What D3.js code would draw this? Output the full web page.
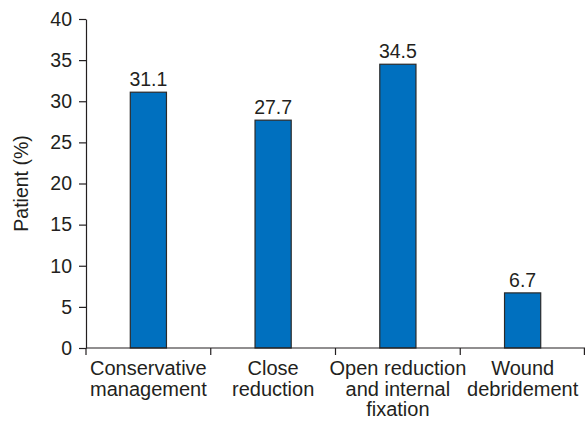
<!DOCTYPE html>
<html>
<head>
<meta charset="utf-8">
<script src="https://cdn.jsdelivr.net/npm/d3@7/dist/d3.min.js"></script>
<style>
  html, body { margin: 0; padding: 0; background: #fff; }
  svg text { font-family: "Liberation Sans", Arial, sans-serif; fill: #231f20; }
</style>
</head>
<body>
<svg id="chart" width="585" height="421"></svg>
<script>
// Treatment categories (each label split into lines) and patient percentages
const categories = [
  ["Conservative", "management"],
  ["Close", "reduction"],
  ["Open reduction", "and internal", "fixation"],
  ["Wound", "debridement"]
];
const values = [31.1, 27.7, 34.5, 6.7];
const yTicks = [0, 5, 10, 15, 20, 25, 30, 35, 40];

const svg = d3.select("#chart");
const margin = { left: 86, right: 0, top: 19, bottom: 73 };
const W = 585, H = 421;
const ink = "#231f20";
const fontSize = 19.5;
const catFontSize = 20;

const x = d3.scaleBand()
  .domain(d3.range(categories.length))
  .range([margin.left, W - margin.right])
  .paddingInner(0.71)
  .paddingOuter(0.355);

const y = d3.scaleLinear().domain([0, 40]).range([H - margin.bottom, margin.top]);

// Bars
svg.append("g").selectAll("rect")
  .data(values)
  .join("rect")
  .attr("x", (d, i) => x(i))
  .attr("width", x.bandwidth())
  .attr("y", d => y(d))
  .attr("height", d => y(0) - y(d))
  .attr("fill", "#0070bf")
  .attr("stroke", "#2a2a2a")
  .attr("stroke-width", 1.2);

// Value labels above bars
svg.append("g").selectAll("text")
  .data(values)
  .join("text")
  .attr("x", (d, i) => x(i) + x.bandwidth() / 2)
  .attr("y", d => y(d) - 6)
  .attr("text-anchor", "middle")
  .attr("font-size", fontSize)
  .text(d => d.toFixed(1));

// Y axis
const yAxis = svg.append("g")
  .attr("transform", `translate(${margin.left},0)`)
  .call(d3.axisLeft(y).tickValues(yTicks).tickSize(7).tickPadding(7).tickSizeOuter(0));
yAxis.select(".domain").attr("stroke", ink).attr("stroke-width", 1.2);
yAxis.selectAll(".tick line").attr("stroke", ink).attr("stroke-width", 1.2);
yAxis.selectAll(".tick text").attr("font-size", fontSize).attr("font-family", "Liberation Sans, Arial, sans-serif").attr("fill", ink);

// X axis: baseline with separators between categories
const xg = svg.append("g");
const xRange = x.range();
xg.append("line")
  .attr("x1", xRange[0]).attr("x2", xRange[1])
  .attr("y1", y(0)).attr("y2", y(0))
  .attr("stroke", ink).attr("stroke-width", 1.2);
const bounds = d3.range(categories.length + 1).map(i => xRange[0] + i * (xRange[1] - xRange[0]) / categories.length);
xg.selectAll("line.sep")
  .data(bounds)
  .join("line")
  .attr("class", "sep")
  .attr("x1", d => Math.min(d, W - 0.6)).attr("x2", d => Math.min(d, W - 0.6))
  .attr("y1", y(0)).attr("y2", y(0) + 7)
  .attr("stroke", ink).attr("stroke-width", 1.2);

// Category labels
const labels = xg.selectAll("text.cat")
  .data(categories)
  .join("text")
  .attr("class", "cat")
  .attr("text-anchor", "middle")
  .attr("font-size", catFontSize)
  .attr("transform", (d, i) => `translate(${x(i) + x.bandwidth() / 2},${y(0) + 27})`);
labels.selectAll("tspan")
  .data(d => d)
  .join("tspan")
  .attr("x", 0)
  .attr("y", (d, j) => j * 20.5)
  .text(d => d);

// Y axis title
svg.append("text")
  .attr("transform", `translate(28,${(y(0) + y(40)) / 2}) rotate(-90)`)
  .attr("text-anchor", "middle")
  .attr("font-size", fontSize)
  .text("Patient (%)");
</script>
</body>
</html>
